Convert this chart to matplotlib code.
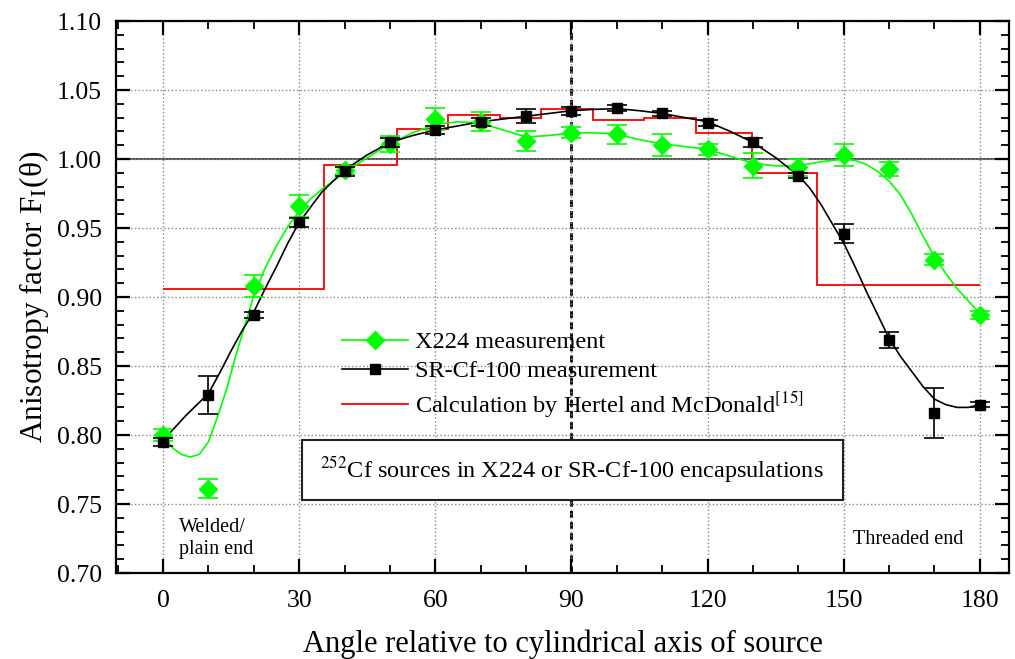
import matplotlib
matplotlib.use("Agg")
import matplotlib.pyplot as plt
from matplotlib.patches import Rectangle
from matplotlib.ticker import MultipleLocator, FormatStrFormatter

# measured points: angle (deg), anisotropy factor, error
angles = [0, 10, 20, 30, 40, 50, 60, 70, 80, 90, 100, 110, 120, 130, 140, 150, 160, 170, 180]

x224_vals = [0.800, 0.761, 0.908, 0.966, 0.992, 1.011, 1.029, 1.027, 1.013, 1.019,
             1.018, 1.010, 1.007, 0.995, 0.994, 1.003, 0.993, 0.927, 0.887]
x224_err = [0.004, 0.007, 0.008, 0.008, 0.003, 0.006, 0.008, 0.007, 0.007, 0.004,
            0.007, 0.008, 0.004, 0.009, 0.006, 0.008, 0.005, 0.004, 0.003]

srcf_vals = [0.795, 0.829, 0.887, 0.954, 0.991, 1.012, 1.021, 1.027, 1.031, 1.035,
             1.037, 1.033, 1.026, 1.012, 0.988, 0.946, 0.869, 0.816, 0.822]
srcf_err = [0.003, 0.014, 0.002, 0.003, 0.003, 0.003, 0.003, 0.003, 0.005, 0.003,
            0.002, 0.002, 0.002, 0.003, 0.002, 0.007, 0.006, 0.018, 0.002]

# fitted curves
x224_fit_x = [0, 2, 4, 6, 8, 10, 12, 14, 16, 18, 20, 22.5, 25, 27.5, 30, 32.5, 35, 37.5,
              40, 45, 50, 55, 60, 65, 70, 75, 80, 85, 90, 95, 100, 105, 110, 115, 120,
              125, 130, 135, 140, 145, 150, 152.5, 155, 157.5, 160, 162.5, 165, 167.5,
              170, 172.5, 175, 177.5, 180]
x224_fit_y = [0.800, 0.791, 0.786, 0.784, 0.786, 0.795, 0.813, 0.833, 0.857, 0.879, 0.901,
              0.921, 0.937, 0.951, 0.962, 0.971, 0.978, 0.984, 0.990, 1.001, 1.011, 1.019,
              1.025, 1.027, 1.026, 1.021, 1.016, 1.017, 1.019, 1.019, 1.018, 1.014, 1.011,
              1.009, 1.007, 1.002, 0.997, 0.995, 0.995, 0.998, 1.000, 0.999, 0.996, 0.991,
              0.984, 0.974, 0.960, 0.944, 0.929, 0.917, 0.906, 0.897, 0.888]

srcf_fit_x = [0, 2.5, 5, 7.5, 10, 12.5, 15, 17.5, 20, 22.5, 25, 27.5, 30, 35, 40, 45, 50,
              55, 60, 65, 70, 75, 80, 85, 90, 95, 100, 105, 110, 115, 120, 125, 130, 135,
              140, 142.5, 145, 147.5, 150, 152.5, 155, 157.5, 160, 162.5, 165, 167.5, 170,
              172.5, 175, 177.5, 180]
srcf_fit_y = [0.796, 0.805, 0.814, 0.822, 0.830, 0.845, 0.861, 0.876, 0.889, 0.906, 0.922,
              0.939, 0.954, 0.976, 0.992, 1.003, 1.012, 1.017, 1.021, 1.024, 1.027, 1.029,
              1.031, 1.033, 1.035, 1.036, 1.0365, 1.035, 1.033, 1.030, 1.027, 1.020, 1.012,
              1.001, 0.988, 0.979, 0.967, 0.953, 0.939, 0.922, 0.904, 0.887, 0.870, 0.857,
              0.846, 0.835, 0.826, 0.822, 0.820, 0.820, 0.822]

# Hertel and McDonald calculation (step edges and levels)
calc_edges = [0, 35.5, 51.6, 62.9, 74.2, 83.4, 94.8, 106.0, 117.4, 129.8, 144.2, 180]
calc_levels = [0.906, 0.996, 1.0215, 1.032, 1.030, 1.036, 1.028, 1.030, 1.0186, 0.990, 0.909]

plt.rcParams['font.family'] = ['Liberation Serif', 'DejaVu Serif']
plt.rcParams['mathtext.fontset'] = 'stix'

fig = plt.figure(figsize=(10.15, 6.59), dpi=100)
ax = fig.add_axes([0.1143, 0.1305, 0.8797, 0.8376])

green = '#00ff00'

ax.grid(True, which='major', color='#888888', linestyle=':', linewidth=1.0)
ax.axhline(1.0, color='#333333', linewidth=1.2, zorder=1.5)
ax.axvline(90, color='black', linewidth=2.0, linestyle=(0, (2.5, 1.5)), zorder=1.5)

ax.stairs(calc_levels, calc_edges, color='#ff0000', linewidth=1.3, baseline=None, zorder=2)

ax.plot(x224_fit_x, x224_fit_y, color=green, linewidth=1.2, zorder=3)
ax.plot(srcf_fit_x, srcf_fit_y, color='black', linewidth=1.2, zorder=3)

ax.errorbar(angles, x224_vals, yerr=x224_err, fmt='D', color=green, ms=9,
            ecolor=green, elinewidth=1.2, capsize=7, capthick=1.2, zorder=4)
ax.errorbar(angles, srcf_vals, yerr=srcf_err, fmt='s', color='black', ms=7,
            ecolor='black', elinewidth=1.2, capsize=7, capthick=1.2, zorder=5)

# legend proxies
h1, = ax.plot([], [], color=green, marker='D', ms=9, lw=1.2)
h2, = ax.plot([], [], color='black', marker='s', ms=7, lw=1.2)
h3, = ax.plot([], [], color='#ff0000', lw=1.3)
ax.legend([h1, h2, h3],
          ['X224 measurement', 'SR-Cf-100 measurement',
           'Calculation by Hertel and McDonald$^{[15]}$'],
          loc='upper left', bbox_to_anchor=(0.253, 0.438), frameon=False,
          fontsize=17.5, handlelength=2.7, handletextpad=0.3, labelspacing=0.28,
          borderpad=0, borderaxespad=0)

ax.add_patch(Rectangle((0.2083, 0.1322), 0.6058, 0.1087, transform=ax.transAxes,
                       facecolor='white', edgecolor='#222222', linewidth=1.5, zorder=6))
ax.text(0.511, 0.1866, '$^{252}$Cf sources in X224 or SR-Cf-100 encapsulations',
        transform=ax.transAxes, ha='center', va='center', fontsize=17.5, zorder=7)

ax.text(3.6, 0.7395, 'Welded/\nplain end', ha='left', va='top', fontsize=14.5,
        linespacing=1.2)
ax.text(164.3, 0.7245, 'Threaded end', ha='center', va='center', fontsize=14.5)

ax.set_xlim(-10.35, 186.4)
ax.set_ylim(0.70, 1.10)
ax.xaxis.set_major_locator(MultipleLocator(30))
ax.xaxis.set_minor_locator(MultipleLocator(10))
ax.yaxis.set_major_locator(MultipleLocator(0.05))
ax.yaxis.set_minor_locator(MultipleLocator(0.01))
ax.yaxis.set_major_formatter(FormatStrFormatter('%.2f'))

ax.tick_params(which='both', direction='in', top=True, right=True, labelsize=18.5)
ax.tick_params(which='major', length=10, width=1.6)
ax.tick_params(which='minor', length=5.5, width=1.3)
ax.tick_params(axis='x', which='major', pad=12)
ax.tick_params(axis='y', which='major', pad=10)
for s in ax.spines.values():
    s.set_linewidth(1.6)

ax.set_xlabel('Angle relative to cylindrical axis of source', fontsize=22, labelpad=13)
ax.set_ylabel('Anisotropy factor F$_\\mathrm{I}$(θ)', fontsize=22.5, labelpad=4)

fig.savefig('out.png', dpi=100)
